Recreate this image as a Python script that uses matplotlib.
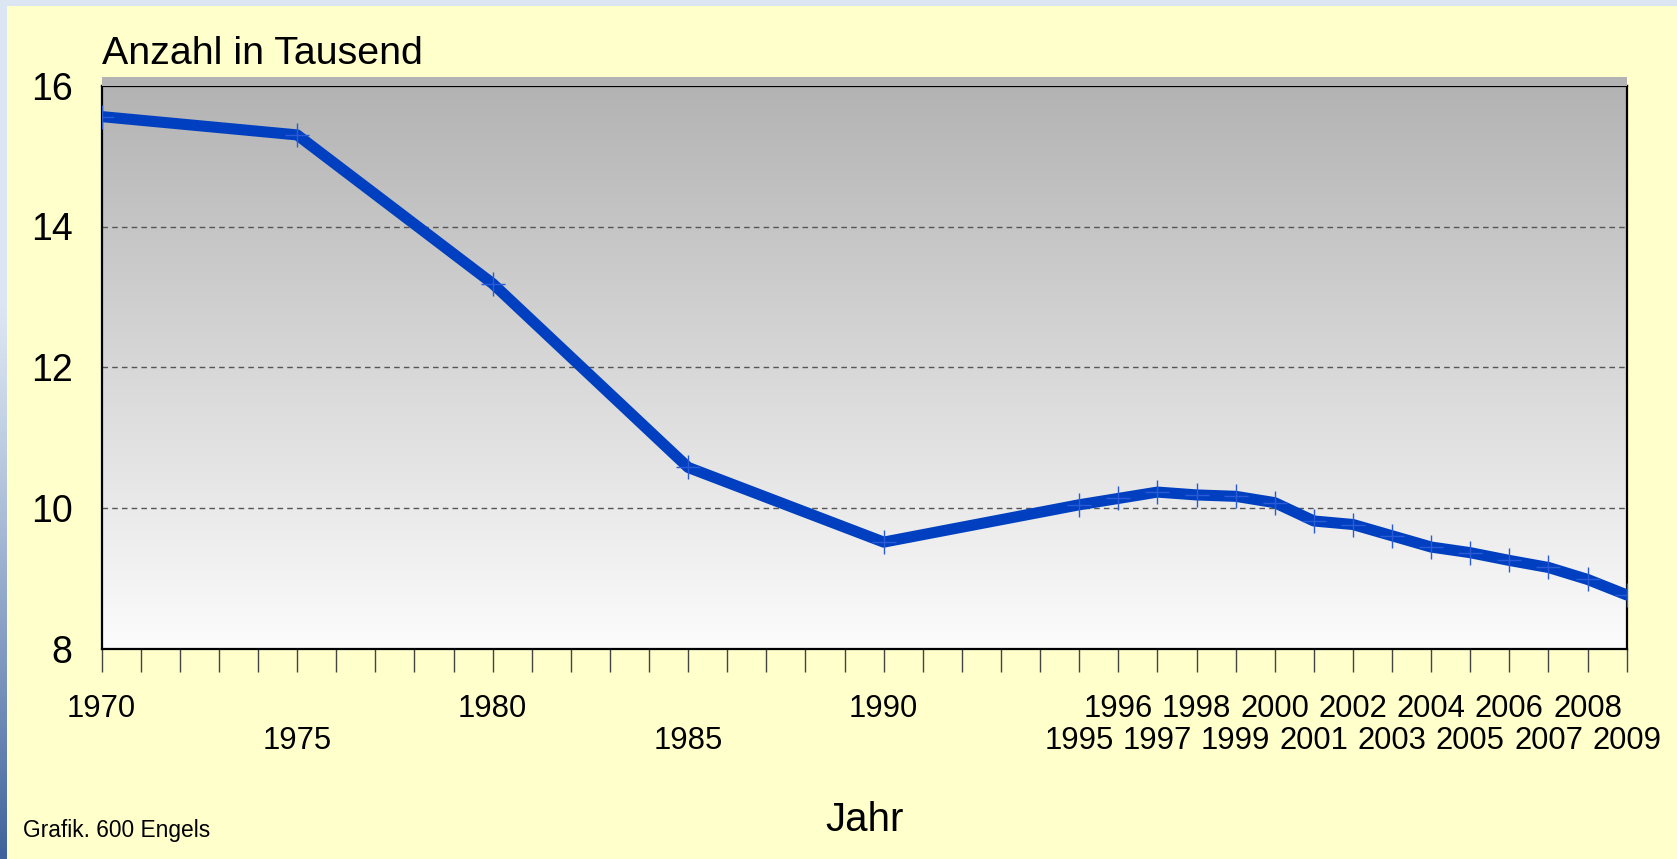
import numpy as np
import matplotlib
matplotlib.use("Agg")
import matplotlib.pyplot as plt
import matplotlib.transforms as mtransforms
from matplotlib.patches import Rectangle

plt.rcParams['font.family'] = ['Liberation Sans', 'DejaVu Sans']

# data
years = [1970, 1975, 1980, 1985, 1990, 1995, 1996, 1997, 1998, 1999,
         2000, 2001, 2002, 2003, 2004, 2005, 2006, 2007, 2008, 2009]
values = [15.56, 15.30, 13.19, 10.58, 9.52, 10.05, 10.14, 10.23, 10.19, 10.17,
          10.08, 9.82, 9.77, 9.61, 9.45, 9.37, 9.26, 9.16, 8.99, 8.77]
tick_years = list(range(1970, 2010))
y_ticks = [8, 10, 12, 14, 16]

W, H = 1677, 859
fig = plt.figure(figsize=(W / 100, H / 100), dpi=100)
fig.patch.set_facecolor('#ffffcc')

# outer frame strips (top light blue, left gradient)
fig.patches.append(Rectangle((0, 1 - 6 / H), 1, 6 / H, transform=fig.transFigure,
                             facecolor='#dce6f2', edgecolor='none', zorder=0))
bax = fig.add_axes([0, 0, 7 / W, 1 - 6 / H])
bax.axis('off')
g = np.linspace(0, 1, 256).reshape(-1, 1)
top_c = np.array([0xdc, 0xe6, 0xf2]) / 255
bot_c = np.array([0x3f, 0x62, 0x9c]) / 255
t = np.clip((g - 0.35) / 0.65, 0, 1) ** 1.2
img = top_c * (1 - t)[..., None] + bot_c * t[..., None]
bax.imshow(img, aspect='auto', extent=[0, 1, 1, 0])

# plot area
left, right = 101.6 / W, 1626.7 / W
bottom, top = 1 - 649.2 / H, 1 - 85.6 / H
ax = fig.add_axes([left, bottom, right - left, top - bottom])

# gray shadow strip above axes
fig.patches.append(Rectangle((left, top), right - left, 9 / H, transform=fig.transFigure,
                             facecolor='#b3b3b3', edgecolor='none', zorder=0))

grad = np.linspace(0, 1, 256).reshape(-1, 1)
c1 = np.array([0xb3, 0xb3, 0xb3]) / 255
c2 = np.array([0xfc, 0xfc, 0xfc]) / 255
gimg = c1 * (1 - grad)[..., None] + c2 * grad[..., None]
ax.imshow(gimg, aspect='auto', extent=[0, 1, 0, 1], transform=ax.transAxes, zorder=0)

ax.plot(years, values, color='#0040c0', lw=8, solid_capstyle='round',
        solid_joinstyle='round', zorder=3)
ax.plot(years, values, ls='none', marker='+', ms=17, mew=1.0, color='#2a5ad8', zorder=4)

ax.set_xlim(1970, 2009)
ax.set_ylim(8, 16)

for yv in y_ticks[1:-1]:
    ax.axhline(yv, color='#555555', lw=1, ls=(0, (4, 3)), zorder=1)

ax.set_yticks(y_ticks)
ax.set_yticklabels([str(v) for v in y_ticks], fontsize=27)
ax.tick_params(axis='y', length=0, pad=21)

# x labels in two staggered rows
top_row = years[0::2]
low_row = years[1::2]
ax.set_xticks(top_row)
ax.set_xticklabels([str(yr) for yr in top_row], fontsize=22.3)
ax.set_xticks([yr for yr in tick_years if yr not in top_row], minor=True)
ax.tick_params(axis='x', which='both', direction='out', length=16.6, width=1.0,
               color='#444444', pad=15.5)
trans = mtransforms.blended_transform_factory(ax.transData, ax.transAxes)
for yr in low_row:
    ax.text(yr, -0.163, str(yr), transform=trans, fontsize=22.3,
            ha='center', va='center', clip_on=False)

for s in ax.spines.values():
    s.set_linewidth(1.6)
    s.set_color('black')

ax.text(0, 1.0383, 'Anzahl in Tausend', transform=ax.transAxes, fontsize=28.4,
        ha='left', va='baseline')
ax.text(0.5, -0.303, 'Jahr', transform=ax.transAxes, fontsize=29, ha='center', va='center')
fig.text(23 / W, 1 - 837 / H, 'Grafik. 600 Engels', fontsize=16.4, ha='left', va='baseline')

fig.savefig('out.png', dpi=100, facecolor=fig.get_facecolor())
